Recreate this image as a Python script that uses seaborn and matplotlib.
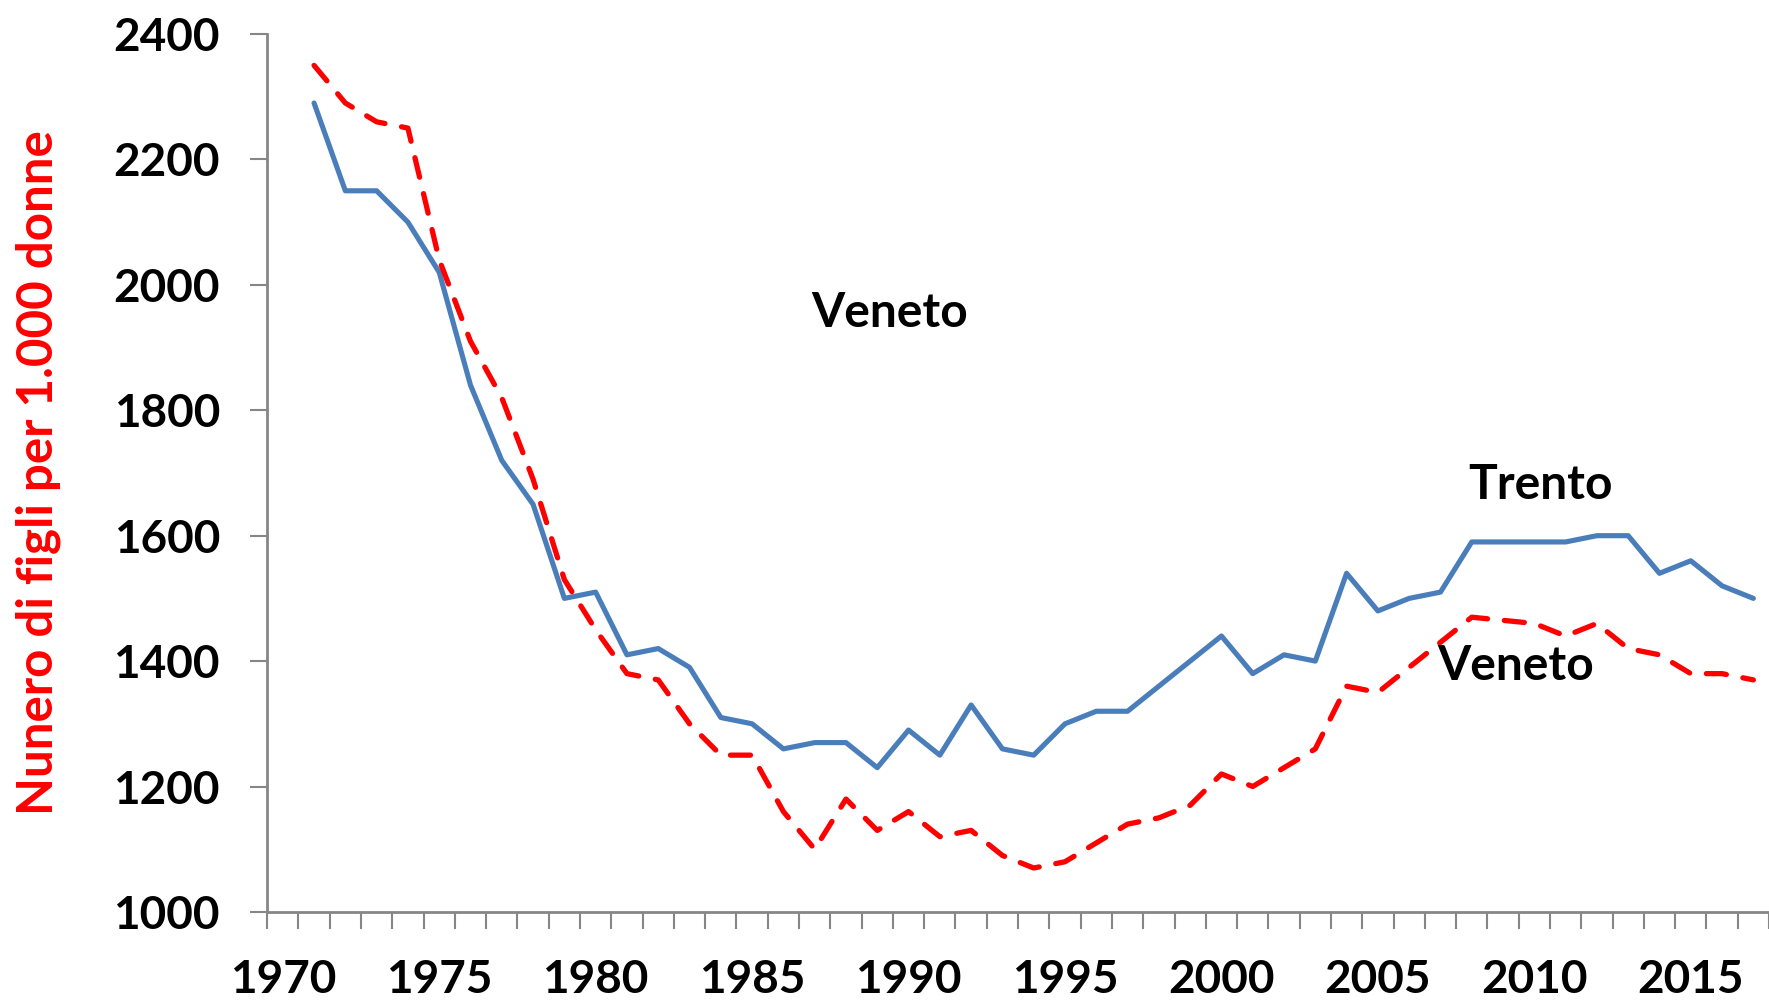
import numpy as np
import pandas as pd
import seaborn as sns
import matplotlib
matplotlib.use("Agg")
import matplotlib.pyplot as plt
from matplotlib.ticker import FixedLocator

# anni (categorie) e valori
anni = list(range(1971, 2018))
trento = [2290, 2150, 2150, 2100, 2020, 1840, 1720, 1650, 1500, 1510,
          1410, 1420, 1390, 1310, 1300, 1260, 1270, 1270, 1230, 1290,
          1250, 1330, 1260, 1250, 1300, 1320, 1320, 1360, 1400, 1440,
          1380, 1410, 1400, 1540, 1480, 1500, 1510, 1590, 1590, 1590,
          1590, 1600, 1600, 1540, 1560, 1520, 1500]
veneto = [2350, 2290, 2260, 2250, 2040, 1910, 1820, 1690, 1530, 1450,
          1380, 1370, 1300, 1250, 1250, 1160, 1100, 1180, 1130, 1160,
          1120, 1130, 1090, 1070, 1080, 1110, 1140, 1150, 1170, 1220,
          1200, 1230, 1260, 1360, 1350, 1390, 1430, 1470, 1465, 1460,
          1440, 1460, 1420, 1410, 1380, 1380, 1370]
etichette_x = list(range(1970, 2016, 5))
tick_y = list(range(1000, 2401, 200))

df = pd.DataFrame({"anno": anni, "Trento": trento, "Veneto": veneto})

sns.set_style("white")
plt.rcParams['font.family'] = ['Lato', 'DejaVu Sans']

fig = plt.figure(figsize=(17.69, 10.01), dpi=100)
ax = fig.add_axes([0.151, 0.089, 0.849, 0.877])

sns.lineplot(data=df, x="anno", y="Trento", ax=ax, color="#4A7EBB", lw=3.7)
sns.lineplot(data=df, x="anno", y="Veneto", ax=ax, color="#FF0000", lw=3.8)
ax.lines[1].set_dashes([3.8, 3.2])
ax.lines[1].set_dash_capstyle("round")

ax.set_xlim(1969.5, 2017.5)
ax.set_ylim(1000, 2400)

ax.set_yticks(tick_y)
ax.set_yticklabels([str(v) for v in tick_y], fontsize=33, fontweight="bold")
ax.set_xticks(etichette_x)
ax.set_xticklabels([str(v) for v in etichette_x], fontsize=33, fontweight="bold")
ax.xaxis.set_minor_locator(FixedLocator(np.arange(1969.5, 2018, 1)))

ax.tick_params(axis="y", which="major", direction="out", length=12, width=1.5,
               color="#868686", pad=22, left=True, labelcolor="black")
ax.tick_params(axis="x", which="major", length=0, pad=34, bottom=True,
               labelcolor="black")
ax.tick_params(axis="x", which="minor", direction="out", length=12, width=1.5,
               color="#868686", bottom=True)

for s in ["top", "right"]:
    ax.spines[s].set_visible(False)
for s in ["left", "bottom"]:
    ax.spines[s].set_color("#868686")
    ax.spines[s].set_linewidth(2)

ax.set_xlabel("")
ax.set_ylabel("Nunero di figli per 1.000 donne", color="#FF0000",
              fontsize=35.5, fontweight="bold", labelpad=38)

ax.text(1989.4, 1955, "Veneto", fontsize=34.5, fontweight="bold",
        ha="center", va="center", color="black")
ax.text(2010.2, 1681, "Trento", fontsize=34.5, fontweight="bold",
        ha="center", va="center", color="black")
ax.text(2009.4, 1392, "Veneto", fontsize=34.5, fontweight="bold",
        ha="center", va="center", color="black")

fig.savefig("out.png", dpi=100)
